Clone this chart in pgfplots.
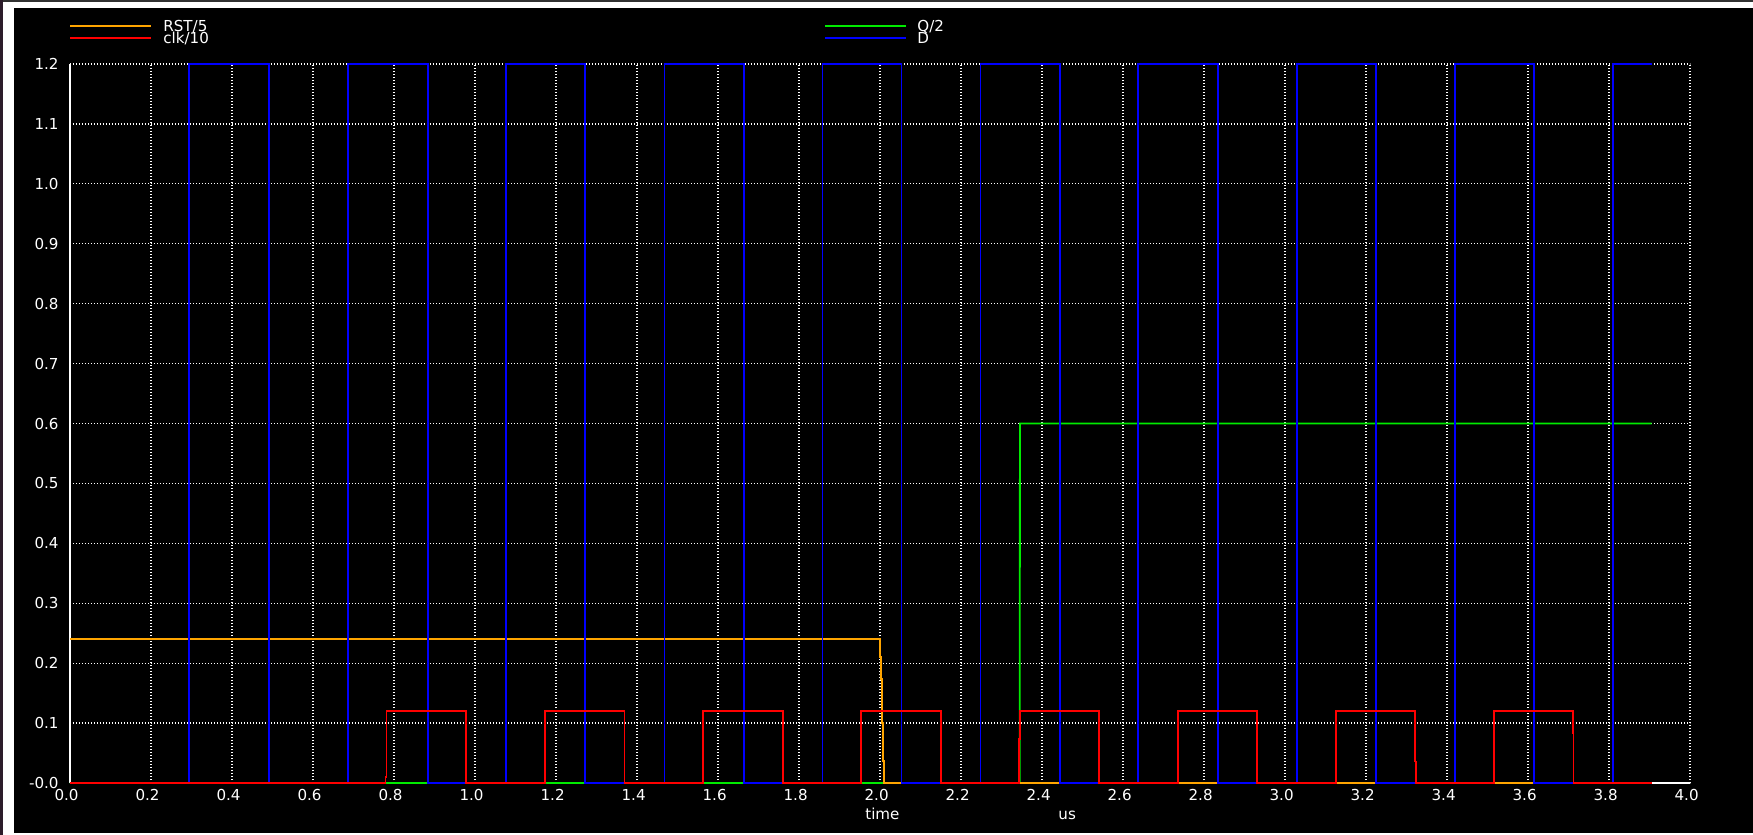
\documentclass[border=0pt]{standalone}
\usepackage{fontspec}
\setmainfont{DejaVu Sans}
\usepackage{pgfplots}
\pgfplotsset{compat=1.18}
\definecolor{qgreen}{RGB}{0,235,0}
\definecolor{rstorange}{RGB}{255,165,0}
\definecolor{leftstrip}{RGB}{44,28,42}
\definecolor{topstrip}{RGB}{50,50,50}
\newcommand{\lblfont}{\fontsize{7.55}{9}\selectfont}
\begin{document}
\begin{tikzpicture}
\useasboundingbox (0,0) rectangle (876.5pt,-417.5pt);
\fill[white] (0,0) rectangle (876.5pt,-417.5pt);
\fill[leftstrip] (0,0) rectangle (1.6pt,-417.5pt);
\fill[topstrip] (1.6pt,0) rectangle (876.5pt,-0.9pt);
\fill[black] (7pt,-3.9pt) rectangle (876.5pt,-416.5pt);
\begin{axis}[
  at={(35pt,-391.5pt)}, anchor=south west,
  scale only axis, width=810pt, height=359.5pt,
  xmin=0, xmax=4, ymin=0, ymax=1.2,
  clip=false,
  axis lines=left,
  axis line style={-, white, line width=0.7pt},
  major tick length=0pt,
  xtick={0,0.2,0.4,0.6,0.8,1.0,1.2,1.4,1.6,1.8,2.0,2.2,2.4,2.6,2.8,3.0,3.2,3.4,3.6,3.8,4.0},
  xticklabels={0.0,0.2,0.4,0.6,0.8,1.0,1.2,1.4,1.6,1.8,2.0,2.2,2.4,2.6,2.8,3.0,3.2,3.4,3.6,3.8,4.0},
  ytick={0,0.1,0.2,0.3,0.4,0.5,0.6,0.7,0.8,0.9,1.0,1.1,1.2},
  yticklabels={-0.0\hspace{2.5pt},0.1,0.2,0.3,0.4,0.5,0.6,0.7,0.8,0.9,1.0,1.1,1.2},
  xticklabel style={anchor=north, inner sep=0pt, yshift=-3pt, xshift=-1.7pt, font=\lblfont, text=white},
  yticklabel style={anchor=east, inner sep=0pt, xshift=-5.5pt, font=\lblfont, text=white},
  grid=major,
  grid style={white, line width=0.6pt, dash pattern=on 0.55pt off 0.95pt},
  xlabel={time},
  xlabel style={at={(axis description cs:0.4907,-0.0505)}, anchor=base west, inner sep=0pt, font=\lblfont, text=white},
  every axis plot/.append style={line width=0.9pt, mark=none},
]
% Q/2
\addplot[qgreen] coordinates {(0,0) (2.345,0) (2.3455,0.6) (3.905,0.6)};
% RST/5
\addplot[rstorange] coordinates {(0,0.24) (2.000,0.24) (2.000,0.21) (2.0025,0.21) (2.0025,0.173) (2.005,0.173) (2.005,0.10) (2.0075,0.10) (2.0075,0.037) (2.0099,0.037) (2.0099,0) (3.905,0)};
% D
\addplot[blue] coordinates {(0,0) (0.293,0) (0.293,1.2) (0.491,1.2) (0.491,0) (0.687,0) (0.687,1.2) (0.883,1.2) (0.883,0) (1.077,0) (1.077,1.2) (1.272,1.2) (1.272,0) (1.468,0) (1.468,1.2) (1.664,1.2) (1.664,0) (1.858,0) (1.858,1.2) (2.053,1.2) (2.053,0) (2.248,0) (2.248,1.2) (2.444,1.2) (2.444,0) (2.637,0) (2.637,1.2) (2.834,1.2) (2.834,0) (3.030,0) (3.030,1.2) (3.225,1.2) (3.225,0) (3.419,0) (3.419,1.2) (3.615,1.2) (3.615,0) (3.809,0) (3.809,1.2) (3.905,1.2)};
% clk/10
\addplot[red] coordinates {(0,0) (0.779,0) (0.779,0.01) (0.7815,0.01) (0.7815,0.12) (0.978,0.12) (0.978,0) (1.172,0) (1.172,0.12) (1.369,0.12) (1.369,0) (1.562,0) (1.562,0.12) (1.760,0.12) (1.760,0) (1.953,0) (1.953,0.12) (2.151,0.12) (2.151,0) (2.3435,0) (2.3435,0.073) (2.346,0.073) (2.346,0.12) (2.541,0.12) (2.541,0) (2.735,0) (2.735,0.12) (2.930,0.12) (2.930,0) (3.126,0) (3.126,0.12) (3.321,0.12) (3.321,0.036) (3.3235,0.036) (3.3235,0) (3.516,0) (3.516,0.12) (3.711,0.12) (3.711,0.083) (3.7125,0.083) (3.7125,0) (3.905,0)};
\node[anchor=base west, inner sep=0pt, font=\lblfont, text=white] at (axis description cs:0.6099,-0.0505) {us};
\end{axis}
\begin{scope}[x=0.5pt, y=-0.5pt]
\draw[rstorange, line width=1pt] (70,25.7) -- (151,25.7);
\draw[red, line width=1pt] (70,37.7) -- (151,37.7);
\draw[qgreen, line width=1pt] (825,25.7) -- (906,25.7);
\draw[blue, line width=1pt] (825,37.7) -- (906,37.7);
\node[anchor=base west, inner sep=0pt, font=\lblfont, text=white] at (163,32) {RST/5};
\node[anchor=base west, inner sep=0pt, font=\lblfont, text=white] at (163,43.3) {clk/10};
\node[anchor=base west, inner sep=0pt, font=\lblfont, text=white] at (917,32) {Q/2};
\node[anchor=base west, inner sep=0pt, font=\lblfont, text=white] at (917,43.3) {D};
\end{scope}
\end{tikzpicture}
\end{document}
